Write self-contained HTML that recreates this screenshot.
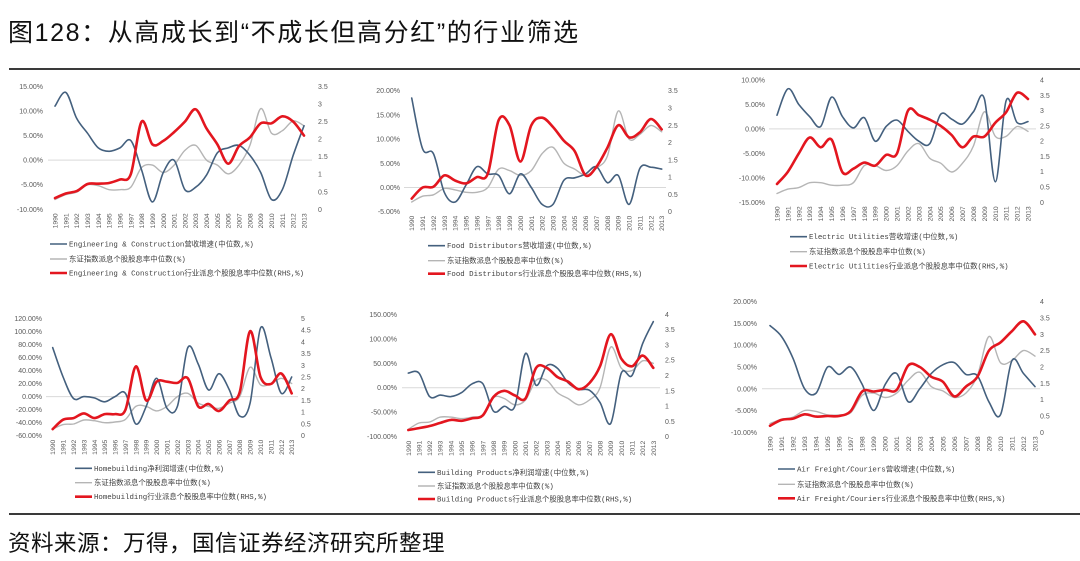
<!DOCTYPE html>
<html><head><meta charset="utf-8">
<style>
html,body{margin:0;padding:0;background:#fff;}
body{width:1080px;height:561px;position:relative;overflow:hidden;font-family:"Liberation Sans","Noto Sans CJK SC",sans-serif;}
#title{position:absolute;left:8px;top:13px;font-size:25px;color:#111;white-space:nowrap;letter-spacing:1.6px;}
#source{position:absolute;left:8px;top:526px;font-size:22.5px;color:#111;white-space:nowrap;letter-spacing:0.5px;}
.rule{position:absolute;left:9px;width:1071px;height:2px;background:#3a3a3a;}
svg{position:absolute;left:0;top:0;}
</style></head>
<body>
<div id="title">图128：从高成长到“不成长但高分红”的行业筛选</div>
<div class="rule" style="top:68px"></div>
<div class="rule" style="top:513px"></div>
<div id="source">资料来源：万得，国信证券经济研究所整理</div>
<svg id="chart" width="1080" height="561"></svg>
<script>
const years = ["1990","1991","1992","1993","1994","1995","1996","1997","1998","1999","2000","2001","2002","2003","2004","2005","2006","2007","2008","2009","2010","2011","2012","2013"];

const p1Names = ["Engineering & Construction营收增速(中位数,%)","东证指数派息个股股息率中位数(%)","Engineering & Construction行业派息个股股息率中位数(RHS,%)"];
const p1Blue = [11,13.8,8.5,5.5,2.5,1.8,2.5,4,-2,-8.5,-2.5,0,-6,-5.5,-3,1.5,2.5,3,1,-2.5,-8,-6,1,7];
const p1Gray = [-8,-7,-6.5,-5,-5.2,-6,-6,-5.5,-1.5,-1,-2.5,-1,2,3,0,-1,-2.8,-1,3,10.5,5.5,6,8,7];
const p1Red = [0.32,0.45,0.52,0.72,0.73,0.75,0.85,1.0,2.5,1.85,1.95,2.2,2.5,2.85,2.3,1.85,1.3,1.8,2.05,2.45,2.45,2.65,2.5,2.1];
const p1LeftTicks = [15,10,5,0,-5,-10];
const p1RightTicks = [3.5,3,2.5,2,1.5,1,0.5,0];

const p2Names = ["Food Distributors营收增速(中位数,%)","东证指数派息个股股息率中位数(%)","Food Distributors行业派息个股股息率中位数(RHS,%)"];
const p2Blue = [18.5,8,7,-1,-3,0.5,4.3,2.8,2.5,-1.3,2.8,0,-3.5,-3.5,1.5,2,2.8,4.3,1,2.5,-3.5,4,4.2,3.8];
const p2Gray = [-3,-1.8,-1.5,-0.2,-0.5,-1,-1,0,3.8,3.5,2.5,3.5,7,8.3,5,3.8,2.5,4,6.5,15.8,10,11,12.8,11.5];
const p2Red = [0.38,0.7,0.72,1.05,0.9,0.82,1.0,1.1,2.65,2.5,1.45,2.5,2.72,2.45,2.05,1.75,1.05,1.3,1.85,2.5,2.15,2.3,2.68,2.38];
const p2LeftTicks = [20,15,10,5,0,-5];
const p2RightTicks = [3.5,3,2.5,2,1.5,1,0.5,0];

const p3Names = ["Electric Utilities营收增速(中位数,%)","东证指数派息个股股息率中位数(%)","Electric Utilities行业派息个股股息率中位数(RHS,%)"];
const p3Blue = [2.8,8.2,5,2.5,0.5,6.5,2.5,0.2,2.3,-2.5,0.5,1.8,-0.5,-2.5,-3,3,2,1,3.5,6.2,-10.8,5.8,1.3,1.5];
const p3Gray = [-13.2,-12.3,-12,-11,-11,-11.5,-11.5,-11,-7.5,-7.5,-8.5,-7.5,-4.5,-3,-6,-7,-8.8,-7,-3.5,3.5,-1.5,-1.5,0.5,-0.5];
const p3Red = [0.6,1.0,1.6,2.12,1.8,2.05,0.98,1.1,1.3,1.2,1.55,1.6,3.0,2.85,2.7,2.5,2.2,1.8,2.15,2.15,2.6,2.95,3.58,3.38];
const p3LeftTicks = [10,5,0,-5,-10,-15];
const p3RightTicks = [4,3.5,3,2.5,2,1.5,1,0.5,0];

const p4Names = ["Homebuilding净利润增速(中位数,%)","东证指数派息个股股息率中位数(%)","Homebuilding行业派息个股股息率中位数(RHS,%)"];
const p4Blue = [75,30,-3,0,-2,-8,0,5,-42,-15,28,-18,-15,75,50,10,35,10,-30,-10,105,60,5,30];
const p4Gray = [-50,-43,-42,-36,-37,-40,-39,-35,-15,-15,-22,-15,0,5,-10,-15,-18,-10,0,45,18,20,28,20];
const p4Red = [0.28,0.68,0.75,0.95,0.75,0.92,0.92,1.1,2.95,1.5,2.3,2.3,2.25,2.45,1.25,1.35,1.05,1.5,1.85,4.45,2.5,2.2,2.65,1.8];
const p4LeftTicks = [120,100,80,60,40,20,0,-20,-40,-60];
const p4RightTicks = [5,4.5,4,3.5,3,2.5,2,1.5,1,0.5,0];

const p5Names = ["Building Products净利润增速(中位数,%)","东证指数派息个股股息率中位数(%)","Building Products行业派息个股股息率中位数(RHS,%)"];
const p5Blue = [30,30,-18,-15,-18,-10,8,8,-48,-38,-38,70,5,45,40,10,-3,-5,-30,-73,30,25,90,135];
const p5Gray = [-85,-72,-70,-60,-60,-63,-60,-55,-20,-22,-35,-25,15,15,-10,-22,-35,-25,0,83,40,35,55,50];
const p5Red = [0.22,0.28,0.35,0.45,0.55,0.52,0.6,0.7,1.3,1.5,1.35,1.25,2.25,2.25,1.95,1.8,1.55,1.75,2.3,3.35,2.55,2.3,2.65,2.25];
const p5LeftTicks = [150,100,50,0,-50,-100];
const p5RightTicks = [4,3.5,3,2.5,2,1.5,1,0.5,0];

const p6Names = ["Air Freight/Couriers营收增速(中位数,%)","东证指数派息个股股息率中位数(%)","Air Freight/Couriers行业派息个股股息率中位数(RHS,%)"];
const p6Blue = [14.5,12,7,0,-1,5,3.3,5,1,-5,1,3.5,-3,0,3.5,5.5,6,3.3,3,-3,-6,6.5,3.5,0.5];
const p6Gray = [-8,-7,-6.5,-5,-5.2,-6,-6,-5.5,-1.5,-1,-2,-1,2,3.8,0.5,-0.5,-2,-1,3,12,6,6.5,8.8,7.5];
const p6Red = [0.2,0.38,0.42,0.55,0.48,0.5,0.5,0.65,1.25,1.25,1.3,1.3,2.05,2.0,1.7,1.55,1.1,1.4,1.7,2.5,2.75,3.1,3.4,3.0];
const p6LeftTicks = [20,15,10,5,0,-5,-10];
const p6RightTicks = [4,3.5,3,2.5,2,1.5,1,0.5,0];

const panels = [
 {id:"engineering",names:p1Names,blue:p1Blue,gray:p1Gray,red:p1Red,lt:p1LeftTicks,rt:p1RightTicks,
  lx:43,top:86.5,bot:209.3,x0:55,x1:304,rx:318,zl:48,zr:312,ly:[244,259,273],legX:50},
 {id:"food-distributors",names:p2Names,blue:p2Blue,gray:p2Gray,red:p2Red,lt:p2LeftTicks,rt:p2RightTicks,
  lx:400,top:90.7,bot:211.7,x0:411.7,x1:661.7,rx:668,zl:404,zr:666,ly:[245.7,260.7,273.7],legX:428},
 {id:"electric-utilities",names:p3Names,blue:p3Blue,gray:p3Gray,red:p3Red,lt:p3LeftTicks,rt:p3RightTicks,
  lx:765,top:80,bot:202.3,x0:777,x1:1028,rx:1040,zl:769,zr:1036,ly:[236.7,251.7,266],legX:790},
 {id:"homebuilding",names:p4Names,blue:p4Blue,gray:p4Gray,red:p4Red,lt:p4LeftTicks,rt:p4RightTicks,
  lx:42,top:318.3,bot:435.7,x0:52.7,x1:291.7,rx:301,zl:46,zr:298,ly:[468.3,482.7,496.7],legX:75},
 {id:"building-products",names:p5Names,blue:p5Blue,gray:p5Gray,red:p5Red,lt:p5LeftTicks,rt:p5RightTicks,
  lx:397,top:314.3,bot:436.7,x0:408.3,x1:653.3,rx:665,zl:402,zr:660,ly:[472.3,486,499],legX:418},
 {id:"air-freight",names:p6Names,blue:p6Blue,gray:p6Gray,red:p6Red,lt:p6LeftTicks,rt:p6RightTicks,
  lx:757,top:301.7,bot:432.3,x0:770,x1:1035,rx:1040,zl:762,zr:1040,ly:[469,484.3,498.3],legX:778}
];

const NS="http://www.w3.org/2000/svg";
const svg=document.getElementById('chart');
function mk(tag,attrs,parent){const e=document.createElementNS(NS,tag);for(const k in attrs)e.setAttribute(k,attrs[k]);(parent||svg).appendChild(e);return e;}
function smooth(pts){
  let d="M"+pts[0][0].toFixed(1)+","+pts[0][1].toFixed(1);
  for(let i=0;i<pts.length-1;i++){
    const p0=pts[Math.max(0,i-1)],p1=pts[i],p2=pts[i+1],p3=pts[Math.min(pts.length-1,i+2)];
    const c1x=p1[0]+(p2[0]-p0[0])/6,c1y=p1[1]+(p2[1]-p0[1])/6;
    const c2x=p2[0]-(p3[0]-p1[0])/6,c2y=p2[1]-(p3[1]-p1[1])/6;
    d+=" C"+c1x.toFixed(1)+","+c1y.toFixed(1)+" "+c2x.toFixed(1)+","+c2y.toFixed(1)+" "+p2[0].toFixed(1)+","+p2[1].toFixed(1);
  }
  return d;
}
panels.forEach(function(p){
  const g=mk('g',{});
  
  
  const lmax=p.lt[0],lmin=p.lt[p.lt.length-1];
  const rmax=p.rt[0],rmin=p.rt[p.rt.length-1];
  const yL=v=>p.bot-(v-lmin)/(lmax-lmin)*(p.bot-p.top);
  const yR=v=>p.bot-(v-rmin)/(rmax-rmin)*(p.bot-p.top);
  const xS=i=>p.x0+i*(p.x1-p.x0)/(years.length-1);
  const z=mk('line',{x1:p.zl,x2:p.zr,y1:yL(0),y2:yL(0),stroke:'#d9d9d9','stroke-width':1},g);
  
  
  p.lt.forEach(function(t){
    const tx=mk('text',{x:p.lx,y:yL(t)+2.5,'text-anchor':'end','font-size':7,fill:'#595959','font-family':'Liberation Sans, sans-serif'},g);
    tx.textContent=t.toFixed(2)+"%";
    
    
  });
  p.rt.forEach(function(t){
    const tx=mk('text',{x:p.rx,y:yR(t)+2.5,'text-anchor':'start','font-size':7,fill:'#595959','font-family':'Liberation Sans, sans-serif'},g);
    tx.textContent=String(t);
    
    
  });
  years.forEach(function(yv,i){
    const x=xS(i),y=p.bot+4;
    const tx=mk('text',{x:x+2.5,y:y,'text-anchor':'end','font-size':6.8,fill:'#595959','font-family':'Liberation Sans, sans-serif',transform:'rotate(-90 '+(x+2.5)+' '+y+')'},g);
    tx.textContent=yv;
    
    
  });
  const series=[[p.gray,'#b5b5b5',1.4,yL,'series-market-yield'],[p.blue,'#44607e',1.6,yL,'series-growth'],[p.red,'#e3161f',2.6,yR,'series-industry-yield']];
  series.forEach(function(s){
    const pts=s[0].map((v,i)=>[xS(i),s[3](v)]);
    const path=mk('path',{d:smooth(pts),fill:'none',stroke:s[1],'stroke-width':s[2],'stroke-linejoin':'round','stroke-linecap':'round'},g);
    
    
  });
  const legC=['#44607e','#b5b5b5','#e3161f'],legW=[1.6,1.4,2.6];
  p.names.forEach(function(n,i){
    const ln=mk('line',{x1:p.legX,x2:p.legX+17,y1:p.ly[i],y2:p.ly[i],stroke:legC[i],'stroke-width':legW[i]},g);
    
    
    const tx=mk('text',{x:p.legX+19,y:p.ly[i]+2.5,'font-size':7.4,fill:'#404040','font-family':'Liberation Mono, Noto Sans CJK SC, monospace'},g);
    tx.textContent=n;
    
    
  });
});
</script>
</body></html>
